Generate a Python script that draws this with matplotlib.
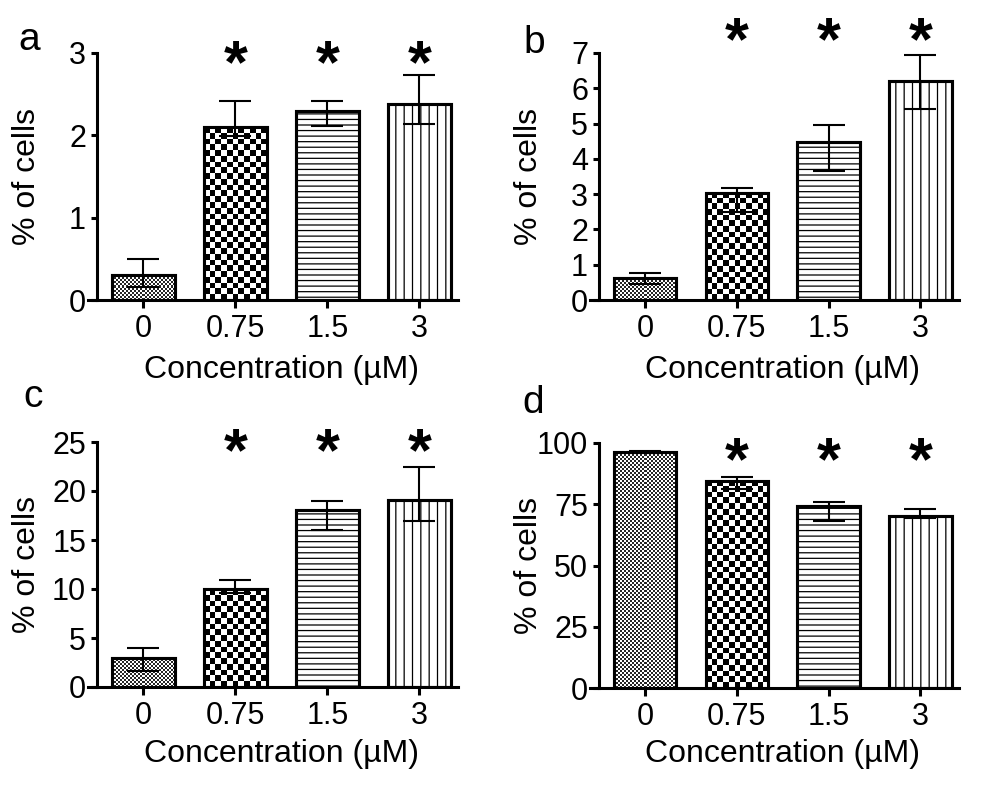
import numpy as np
import matplotlib
matplotlib.use("Agg")
import matplotlib.pyplot as plt
from matplotlib.transforms import blended_transform_factory

plt.rcParams['font.family'] = ['Liberation Sans', 'DejaVu Sans']
plt.rcParams['hatch.linewidth'] = 0.9

# data
conc_labels = ["0", "0.75", "1.5", "3"]
panel_names = ["a", "b", "c", "d"]

a_vals = [0.30, 2.10, 2.30, 2.38]
a_lo = [0.16, 1.99, 2.11, 2.14]
a_hi = [0.50, 2.42, 2.42, 2.73]

b_vals = [0.61, 3.04, 4.47, 6.22]
b_lo = [0.45, 2.50, 3.66, 5.41]
b_hi = [0.76, 3.18, 4.96, 6.94]

c_vals = [2.99, 9.97, 18.06, 19.10]
c_lo = [1.67, 9.60, 16.00, 16.97]
c_hi = [3.94, 10.90, 19.00, 22.50]

d_vals = [96.2, 84.5, 74.3, 70.2]
d_lo = [95.8, 81.1, 68.2, 69.5]
d_hi = [96.7, 86.0, 76.0, 72.9]

a_ticks = [0, 1, 2, 3]
b_ticks = [0, 1, 2, 3, 4, 5, 6, 7]
c_ticks = [0, 5, 10, 15, 20, 25]
d_ticks = [0, 25, 50, 75, 100]

significant = [False, True, True, True]

W, H = 1004, 790
fig = plt.figure(figsize=(W / 100, H / 100), dpi=100)

# layout in pixels: (left, top, right, bottom) of each axes box
boxes = [(88, 53, 458, 300), (590, 53, 959, 300),
         (88, 442, 458, 687), (590, 443, 959, 688)]
star_y = [0.99, 1.085, 0.996, 0.963]
xlab_y = [-0.316, -0.316, -0.306, -0.302]
letter_pos = [(18, 50), (523, 53), (23, 407), (522, 413)]

panels = [(a_vals, a_lo, a_hi, a_ticks), (b_vals, b_lo, b_hi, b_ticks),
          (c_vals, c_lo, c_hi, c_ticks), (d_vals, d_lo, d_hi, d_ticks)]

LW = 2.2
XMIN, XMAX = -0.6, 3.42
x = np.arange(len(conc_labels))


def checker(nx, ny):
    ii, jj = np.meshgrid(np.arange(nx), np.arange(ny))
    return ((ii + jj) % 2).astype(float)


def checker_fill(ax, patch, cell_px, strength=1.0):
    x0, y0 = patch.get_x(), patch.get_y()
    x1, y1 = x0 + patch.get_width(), y0 + patch.get_height()
    (px0, py0), (px1, py1) = ax.transData.transform([(x0, y0), (x1, y1)])
    nx = max(1, int(round((px1 - px0) / cell_px)))
    ny = max(1, int(round((py1 - py0) / cell_px)))
    im = ax.imshow(checker(nx, ny) * strength, cmap="gray_r", vmin=0, vmax=1,
                   extent=(x0, x1, y0, y1), origin="lower",
                   interpolation="nearest", aspect="auto", zorder=2.5)
    im.set_clip_path(patch)


for k, (vals, lo, hi, ticks) in enumerate(panels):
    l, t, r, b = boxes[k]
    ax = fig.add_axes([l / W, 1 - b / H, (r - l) / W, (b - t) / H])
    ax.set_xlim(XMIN, XMAX)
    ax.set_ylim(0, ticks[-1])

    vals = np.array(vals)
    bars = ax.bar(x, vals, width=0.68, color="white", edgecolor="black",
                  linewidth=LW, zorder=2)
    bars[2].set_hatch("---")
    bars[3].set_hatch("||")

    # fine and coarse checkerboard fills for the first two bars
    checker_fill(ax, bars[0], 2.0, 0.85)
    checker_fill(ax, bars[1], 5.7)

    ax.bar(x, vals, width=0.68, fill=False, edgecolor="black",
           linewidth=LW, zorder=3)

    yerr = [vals - np.array(lo), np.array(hi) - vals]
    ax.errorbar(x, vals, yerr=yerr, fmt="none", ecolor="black",
                elinewidth=1.5, capsize=11.5, capthick=1.5, zorder=4)

    ax.set_xlim(XMIN, XMAX)
    ax.set_ylim(0, ticks[-1])

    for side in ["top", "right"]:
        ax.spines[side].set_visible(False)
    ax.spines["left"].set_position(("data", -0.5))
    ax.spines["left"].set_linewidth(LW)
    ax.spines["bottom"].set_linewidth(LW)

    ax.set_xticks(x)
    ax.set_xticklabels(conc_labels)
    ax.set_yticks(ticks)
    ax.tick_params(axis="x", length=6, width=LW, pad=4, labelsize=22)
    ax.tick_params(axis="y", length=4.5, width=LW, pad=3.5, labelsize=22)

    ax.set_ylabel("% of cells", fontsize=23, va="center")
    ax.yaxis.set_label_coords(-0.165, 0.5)
    ax.set_xlabel("Concentration (\u00b5M)", fontsize=23, va="baseline")
    ax.xaxis.set_label_coords((1.5 - XMIN) / (XMAX - XMIN), xlab_y[k])

    trans = blended_transform_factory(ax.transData, ax.transAxes)
    fs = 44
    for xi, sig in zip(x, significant):
        if sig:
            ax.annotate("*", xy=(xi, star_y[k]), xycoords=trans,
                        xytext=(0, -0.44 * fs), textcoords="offset points",
                        ha="center", va="baseline", fontsize=fs,
                        fontweight="bold", annotation_clip=False)

    lx, ly = letter_pos[k]
    fig.text(lx / W, 1 - ly / H, panel_names[k], fontsize=28,
             ha="left", va="baseline")

fig.savefig("out.png", dpi=100)
